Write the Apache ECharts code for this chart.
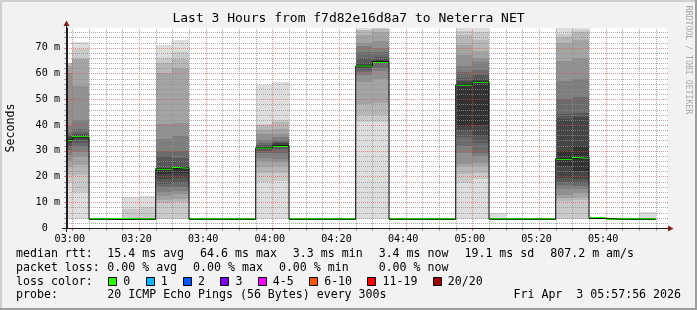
<!DOCTYPE html>
<html><head><meta charset="utf-8">
<script src="https://cdn.jsdelivr.net/npm/echarts@6/dist/echarts.min.js"></script>
<style>html,body{margin:0;padding:0;background:#f2f2f2;}#c{width:697px;height:310px;}</style>
</head><body><div id="c"></div>
<script>
// ---------- texts ----------
const TITLE = 'Last 3 Hours from f7d82e16d8a7 to Neterra NET';
const Y_UNIT = 'Seconds';
const WATERMARK = 'RRDTOOL / TOBI OETIKER';
const MEDIAN_LABEL = 'median rtt:';
const MEDIAN_STATS = ['15.4 ms avg', '64.6 ms max', '3.3 ms min', '3.4 ms now', '19.1 ms sd', '807.2 m am/s'];
const LOSS_LABEL = 'packet loss:';
const LOSS_STATS = ['0.00 % avg', '0.00 % max', '0.00 % min', '  0.00 % now'];
const LOSSCOLOR_LABEL = 'loss color:';
const LOSS_CLASSES = ['0', '1', '2', '3', '4-5', '6-10', '11-19', '20/20'];
const LOSS_COLORS = ['#26ff00', '#00b8ff', '#0059ff', '#7e00ff', '#ff00ff', '#ff5500', '#ff0000', '#a10000'];
const PROBE_LABEL = 'probe:';
const PROBE_TEXT = '20 ICMP Echo Pings (56 Bytes) every 300s';
const DATE_TEXT = 'Fri Apr  3 05:57:56 2026';

// ---------- axes (time in minutes after midnight, rtt in ms) ----------
const X_MIN = 178.4, X_MAX = 358.4;
const Y_MIN = 0, Y_MAX = 77.64;
const X_TICKS = [180, 200, 220, 240, 260, 280, 300, 320, 340];
const X_TICK_LABELS = ['03:00', '03:20', '03:40', '04:00', '04:20', '04:40', '05:00', '05:20', '05:40'];
const X_MINOR = [185, 190, 195, 205, 210, 215, 225, 230, 235, 245, 250, 255, 265, 270, 275, 285, 290, 295,
                 305, 310, 315, 325, 330, 335, 345, 350, 355];
const Y_TICKS = [0, 10, 20, 30, 40, 50, 60, 70];
const Y_TICK_LABELS = ['0  ', '10 m', '20 m', '30 m', '40 m', '50 m', '60 m', '70 m'];
const Y_MINOR = [2, 4, 6, 8, 12, 14, 16, 18, 22, 24, 26, 28, 32, 34, 36, 38, 42, 44, 46, 48,
                 52, 54, 56, 58, 62, 64, 66, 68, 72, 74, 76];

// ---------- data: 5-minute intervals ----------
const STEP_MIN = 5;
const intervalStart = [175, 180, 185, 190, 195, 200, 205, 210, 215, 220, 225, 230, 235, 240, 245, 250, 255, 260,
                       265, 270, 275, 280, 285, 290, 295, 300, 305, 310, 315, 320, 325, 330, 335, 340, 345, 350];
const medianRtt = [34.3, 35.2, 3.4, 3.3, 3.4, 3.4, 23.0, 23.4, 3.4, 3.4, 3.4, 3.4, 31.1, 32.0, 3.4, 3.4, 3.4, 3.4,
                   62.9, 64.6, 3.4, 3.4, 3.4, 3.4, 55.6, 56.8, 3.4, 3.4, 3.4, 3.4, 26.9, 27.3, 3.7, 3.4, 3.4, 3.4];

// 20 sorted ping times per interval (ms)
const FLAT = [3.3, 3.3, 3.3, 3.3, 3.3, 3.3, 3.4, 3.4, 3.4, 3.4, 3.4, 3.4, 3.4, 3.4, 3.4, 3.5, 3.5, 3.5, 3.5, 3.6];
const p0255 = [3.4, 17.4, 20.5, 23.8, 26, 28.3, 30.3, 32, 32.9, 34, 34.6, 35.3, 36, 36.7, 39.6, 60, 63, 64, 64, 64.2];
const p0300 = [3.4, 14, 20.6, 24.5, 27.5, 29.6, 31.5, 33, 34, 35, 35.5, 36, 37, 38.3, 42, 55, 65.5, 65.5, 69.3, 72.2];
const p0315 = [3.3, 3.3, 3.3, 3.3, 3.3, 3.3, 3.4, 3.4, 3.4, 3.4, 3.4, 3.4, 3.4, 3.4, 3.5, 3.5, 3.5, 3.6, 7.5, 12.2];
const p0320 = [3.3, 3.3, 3.3, 3.3, 3.3, 3.4, 3.4, 3.4, 3.4, 3.4, 3.4, 3.4, 3.4, 3.5, 3.5, 3.5, 3.6, 3.6, 8, 12.6];
const p0325 = [3.4, 3.5, 9.8, 11, 12.4, 14, 16, 17, 18.9, 21, 23, 23.4, 28, 29.9, 34.4, 40.2, 60, 64, 66, 71];
const p0330 = [3.4, 3.5, 10, 11.1, 13.1, 14.5, 16, 17.6, 19.5, 21.5, 23.5, 24, 27, 30, 35.7, 40.9, 62, 65.5, 68.4, 73];
const p0355 = [3.4, 18, 21.2, 23.8, 26, 27.3, 29, 30, 30.8, 31.1, 31.5, 31.8, 32.2, 32.9, 34, 36.4, 38, 40, 40.3, 55.4];
const p0400 = [3.4, 18.2, 21.5, 24, 25.5, 26.7, 29, 30.5, 31.5, 32, 32.4, 33, 33.5, 34.3, 35.5, 36.4, 38.5, 41, 41.9, 56.8];
const p0425 = [3.4, 41, 44, 48, 56.8, 59.4, 60.7, 61.5, 62, 62.8, 63.2, 64, 65.9, 68.3, 70.6, 71.7, 74.9, 76.9, 77, 77.9];
const p0430 = [3.4, 41, 44, 48.6, 58, 61, 62.3, 63.5, 64, 64.4, 64.8, 65.4, 66.5, 68.4, 70, 72.4, 76, 77.2, 77.6, 77.9];
const p0455 = [3.4, 17.4, 21, 24, 25, 29, 31.8, 35.4, 38, 39.6, 55.8, 57, 58.3, 60.7, 62.9, 67.2, 71, 74.9, 76.5, 78];
const p0500 = [3.4, 19, 21.5, 24, 25.4, 28, 29.2, 33, 35.7, 40, 56.8, 58, 59.5, 61.5, 64.4, 66, 68.6, 73, 76, 78];
const p0505 = [3.3, 3.3, 3.3, 3.3, 3.3, 3.4, 3.4, 3.4, 3.4, 3.4, 3.4, 3.4, 3.4, 3.4, 3.5, 3.5, 3.5, 3.5, 3.7, 5.7];
const p0525 = [3.4, 3.6, 10.5, 11.5, 13, 15, 16.5, 18, 19.5, 24, 30, 42.2, 44.1, 50, 57, 65, 71.9, 74, 75.3, 78];
const p0530 = [3.4, 3.6, 11, 12, 13.5, 15, 16.3, 17.5, 19, 22, 32, 43, 44.7, 51, 57.7, 66, 73, 76, 77, 78];
const p0535 = [3.5, 3.5, 3.6, 3.6, 3.6, 3.6, 3.7, 3.7, 3.7, 3.7, 3.7, 3.7, 3.7, 3.8, 3.8, 3.8, 3.8, 3.9, 3.9, 4.0];
const p0550 = [3.3, 3.3, 3.3, 3.3, 3.3, 3.4, 3.4, 3.4, 3.4, 3.4, 3.4, 3.4, 3.4, 3.4, 3.5, 3.5, 3.5, 3.6, 4.0, 6.3];
const pings = [p0255, p0300, FLAT, FLAT, p0315, p0320, p0325, p0330, FLAT, FLAT, FLAT, FLAT, p0355, p0400,
               FLAT, FLAT, FLAT, FLAT, p0425, p0430, FLAT, FLAT, FLAT, FLAT, p0455, p0500, p0505, FLAT, FLAT, FLAT,
               p0525, p0530, p0535, FLAT, FLAT, p0550];

// ---------- build series data ----------
const N = 20, HALF = N / 2;
const smokeColor = [];
for (let k = 1; k <= HALF; k++) {
  const c = Math.floor(190 / HALF * (HALF - k)) + 50;
  const h = c.toString(16).padStart(2, '0');
  smokeColor.push('#' + h + h + h);
}
const smokeData = [];
intervalStart.forEach((t, i) => {
  const p = pings[i];
  for (let k = 1; k <= HALF; k++) smokeData.push([t, t + STEP_MIN, p[k - 1], p[N - k], k]);
});
const stepData = intervalStart.map((t, i) => [t, medianRtt[i]]);
stepData.push([intervalStart[intervalStart.length - 1] + STEP_MIN, medianRtt[medianRtt.length - 1]]);
const medianData = intervalStart.map((t, i) => [t, t + STEP_MIN, medianRtt[i]]);
// grid lines: [direction 0=vertical/1=horizontal, value, major?]
const gridData = [];
X_MINOR.forEach(v => gridData.push([0, v, 0]));
Y_MINOR.forEach(v => gridData.push([1, v, 0]));
X_TICKS.forEach(v => gridData.push([0, v, 1]));
Y_TICKS.forEach(v => gridData.push([1, v, 1]));

// ---------- styles ----------
const MONO = '"DejaVu Sans Mono", monospace';
const GRID_COLOR = 'rgba(143,143,143,0.75)';
const MGRID_COLOR = 'rgba(222,79,79,0.6)';
const AXIS_COLOR = '#1f1f1f';
const ARROW_COLOR = '#801f1f';
const LEG_FONT = '11.6px ' + MONO;
const ADV = 6.98;

const chart = echarts.init(document.getElementById('c'), null, {renderer: 'canvas', width: 697, height: 310});

function clipRect(x0, y0, x1, y1, cs) {
  x0 = Math.round(x0); x1 = Math.round(x1); y0 = Math.round(y0); y1 = Math.round(y1);
  return echarts.graphic.clipRectByRect(
    {x: Math.min(x0, x1), y: Math.min(y0, y1), width: Math.abs(x1 - x0), height: Math.abs(y1 - y0)},
    {x: cs.x, y: cs.y, width: cs.width, height: cs.height});
}

function txt(x, y, s, extra) {
  const st = Object.assign({text: s, font: LEG_FONT, fill: '#000', align: 'left', textAlign: 'left',
    verticalAlign: 'middle', textVerticalAlign: 'middle'}, extra || {});
  return {type: 'text', x: x, y: y, style: st, silent: true};
}

const graphics = [];
graphics.push({type: 'line', shape: {x1: 0, y1: 1, x2: 697, y2: 1}, style: {stroke: '#cfcfcf', lineWidth: 2}, silent: true});
graphics.push({type: 'line', shape: {x1: 1, y1: 0, x2: 1, y2: 310}, style: {stroke: '#cfcfcf', lineWidth: 2}, silent: true});
graphics.push({type: 'line', shape: {x1: 0, y1: 309, x2: 697, y2: 309}, style: {stroke: '#9e9e9e', lineWidth: 2}, silent: true});
graphics.push({type: 'line', shape: {x1: 696, y1: 0, x2: 696, y2: 310}, style: {stroke: '#9e9e9e', lineWidth: 2}, silent: true});
graphics.push(txt(348.5, 18.5, TITLE, {font: '13px ' + MONO, align: 'center', textAlign: 'center'}));
graphics.push(Object.assign(txt(11, 128, Y_UNIT, {align: 'center', textAlign: 'center'}), {rotation: Math.PI / 2}));
graphics.push(Object.assign(txt(688, 60, WATERMARK, {font: '8.2px ' + MONO, fill: '#a8a8a8', align: 'center', textAlign: 'center'}), {rotation: -Math.PI / 2}));
graphics.push({type: 'line', shape: {x1: 62, y1: 228.5, x2: 668, y2: 228.5}, style: {stroke: AXIS_COLOR, lineWidth: 1}, silent: true, z: 5});
graphics.push({type: 'line', shape: {x1: 66.5, y1: 232, x2: 66.5, y2: 25}, style: {stroke: AXIS_COLOR, lineWidth: 1}, silent: true, z: 5});
graphics.push({type: 'polygon', shape: {points: [[668, 225.5], [668, 231.5], [673.5, 228.5]]}, style: {fill: ARROW_COLOR}, silent: true, z: 5});
graphics.push({type: 'polygon', shape: {points: [[63.5, 26], [69.5, 26], [66.5, 20.5]]}, style: {fill: ARROW_COLOR}, silent: true, z: 5});

const L1 = 254.3, L2 = 268.3, L3 = 281.6, L4 = 295.3;
const COL0 = 16, COL1 = 107.3, GAP = 16;
graphics.push(txt(COL0, L1, MEDIAN_LABEL));
let cx = COL1;
MEDIAN_STATS.forEach(s => { graphics.push(txt(cx, L1, s)); cx += s.length * ADV + GAP; });
graphics.push(txt(COL0, L2, LOSS_LABEL));
cx = COL1;
LOSS_STATS.forEach(s => { graphics.push(txt(cx, L2, s)); cx += s.length * ADV + GAP; });
graphics.push(txt(COL0, L3, LOSSCOLOR_LABEL));
cx = COL1 + 1;
LOSS_CLASSES.forEach((s, i) => {
  graphics.push({type: 'rect', shape: {x: Math.round(cx) + 0.5, y: 277.5, width: 8, height: 8},
    style: {fill: LOSS_COLORS[i], stroke: '#000', lineWidth: 1}, silent: true});
  graphics.push(txt(cx + 15, L3, s));
  cx += 15 + s.length * ADV + 15.4;
});
graphics.push(txt(COL0, L4, PROBE_LABEL));
graphics.push(txt(COL1, L4, PROBE_TEXT));
graphics.push(txt(681, L4, DATE_TEXT, {align: 'right', textAlign: 'right'}));

const axisLabelStyle = {fontFamily: MONO, fontSize: 10.15, color: '#000'};

const option = {
  animation: false,
  backgroundColor: '#f2f2f2',
  grid: {left: 67, top: 28, width: 600, height: 200, show: true, backgroundColor: '#ffffff', borderWidth: 0},
  xAxis: {
    type: 'value', min: X_MIN, max: X_MAX, position: 'bottom', z: 4,
    axisLine: {show: true, onZero: false, lineStyle: {color: AXIS_COLOR, width: 1}},
    axisTick: {show: false},
    axisLabel: Object.assign({show: true, customValues: X_TICKS, margin: 6, padding: [0, 5, 0, 0],
      formatter: v => { const i = X_TICKS.indexOf(Math.round(v)); return i >= 0 ? X_TICK_LABELS[i] : ''; }}, axisLabelStyle),
    splitLine: {show: false}
  },
  yAxis: {
    type: 'value', min: Y_MIN, max: Y_MAX, position: 'left', z: 4,
    axisLine: {show: true, onZero: false, lineStyle: {color: AXIS_COLOR, width: 1}},
    axisTick: {show: false},
    axisLabel: Object.assign({show: true, customValues: Y_TICKS, margin: 7,
      formatter: v => { const i = Y_TICKS.indexOf(Math.round(v)); return i >= 0 ? Y_TICK_LABELS[i] : ''; }}, axisLabelStyle),
    splitLine: {show: false}
  },
  series: [
    {
      type: 'custom', name: 'smoke', z: 1, silent: true,
      data: smokeData,
      renderItem: (params, api) => {
        const t0 = api.value(0), t1 = api.value(1), lo = api.value(2), hi = api.value(3), k = api.value(4);
        if (hi <= lo) return null;
        const a = api.coord([t0, hi]), b = api.coord([t1, lo]);
        const r = clipRect(a[0], a[1], b[0], b[1], params.coordSys);
        if (!r) return null;
        return {type: 'rect', shape: r, style: {fill: smokeColor[k - 1], stroke: null}};
      }
    },
    {
      type: 'custom', name: 'grid', z: 2, silent: true,
      data: gridData,
      renderItem: (params, api) => {
        const dir = api.value(0), v = api.value(1), major = api.value(2);
        const cs = params.coordSys;
        const col = major ? MGRID_COLOR : GRID_COLOR;
        if (dir === 0) {
          const x = Math.round(api.coord([v, Y_MIN])[0]) + 0.5;
          const yb = cs.y + cs.height, yt = cs.y;
          return {type: 'group', children: [
            {type: 'line', shape: {x1: x, y1: yb + 2, x2: x, y2: yt}, style: {stroke: col, lineWidth: 1, lineDash: [1, 1]}},
            {type: 'line', shape: {x1: x, y1: yb, x2: x, y2: yb + 3}, style: {stroke: col, lineWidth: 1}}
          ]};
        }
        const y = Math.round(api.coord([X_MIN, v])[1]) + 0.5;
        return {type: 'group', children: [
          {type: 'line', shape: {x1: cs.x - 2, y1: y, x2: cs.x + cs.width + 2, y2: y}, style: {stroke: col, lineWidth: 1, lineDash: [1, 1]}},
          {type: 'line', shape: {x1: cs.x - 3, y1: y, x2: cs.x, y2: y}, style: {stroke: col, lineWidth: 1}}
        ]};
      }
    },
    {
      type: 'line', name: 'median-step', z: 3, silent: true,
      data: stepData, step: 'end', symbol: 'none', clip: true,
      lineStyle: {color: '#101010', width: 1}
    },
    {
      type: 'custom', name: 'median', z: 3, silent: true,
      data: medianData,
      renderItem: (params, api) => {
        const a = api.coord([api.value(0), api.value(2)]), b = api.coord([api.value(1), api.value(2)]);
        const cs = params.coordSys;
        const x0 = Math.max(Math.round(a[0]), cs.x), x1 = Math.min(Math.round(b[0]), cs.x + cs.width);
        if (x1 <= x0) return null;
        const y = Math.round(a[1]);
        return {type: 'line', shape: {x1: x0, y1: y, x2: x1, y2: y}, style: {stroke: LOSS_COLORS[0], lineWidth: 2}};
      }
    }
  ],
  graphic: {elements: graphics}
};
chart.setOption(option);
</script>
</body></html>
